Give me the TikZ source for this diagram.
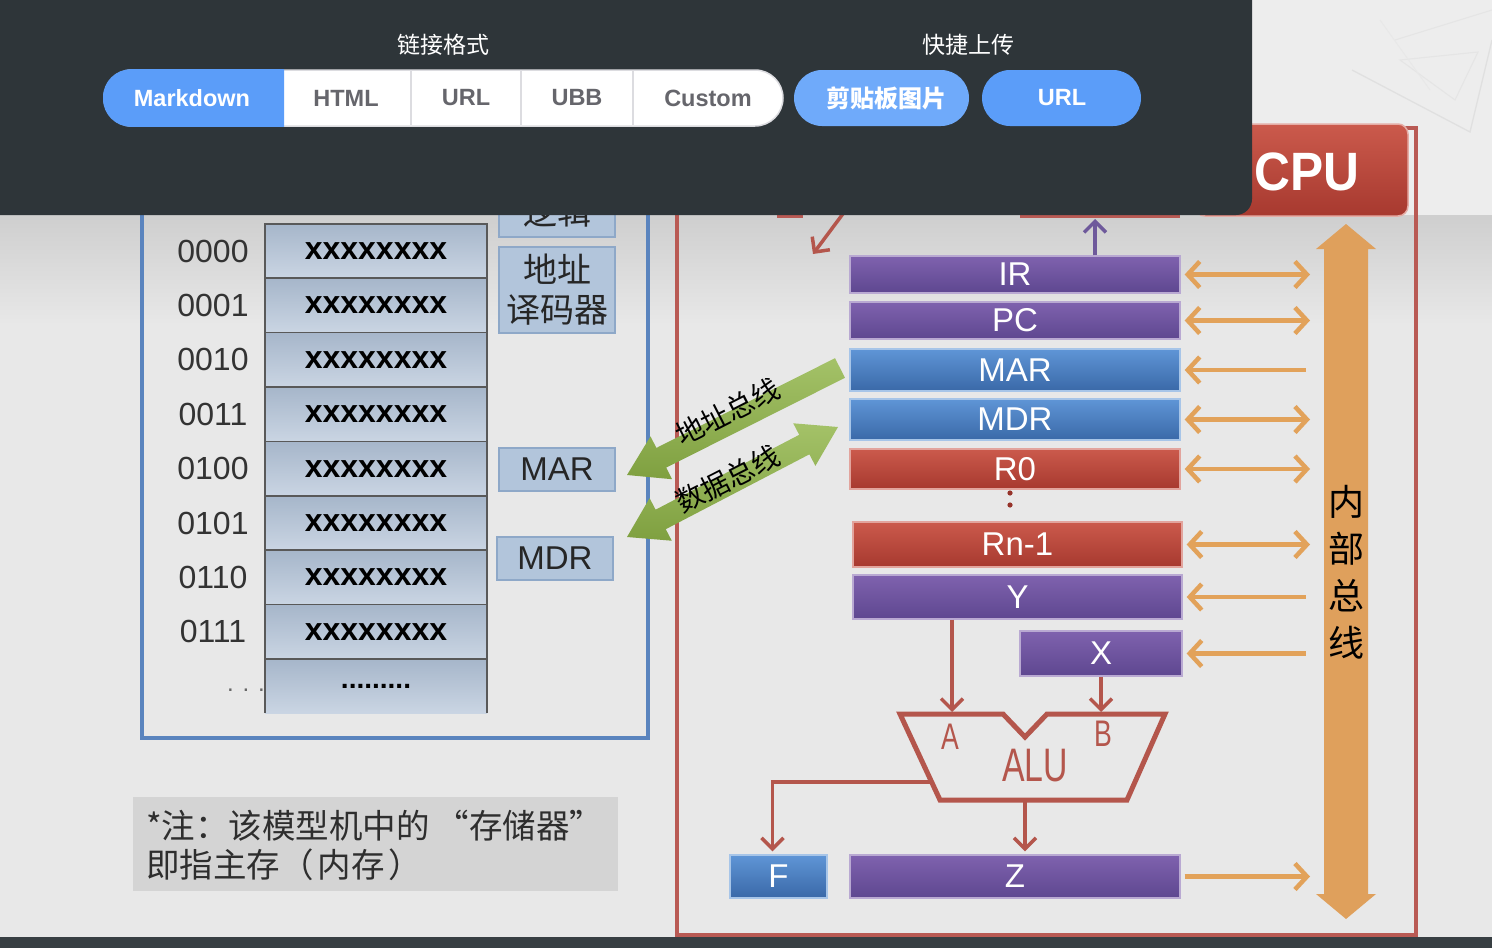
\documentclass[tikz,border=0pt]{standalone}
\usepackage{fontspec}
\setmainfont{Liberation Sans}
\newfontfamily\cjk{Noto Sans CJK SC}
\usetikzlibrary{arrows.meta,calc}
\newcommand\myfs[1]{\fontsize{#1pt}{#1pt}\selectfont}
\definecolor{panel}{HTML}{2E3539}
\definecolor{uiblue}{HTML}{5B9DF9}
\definecolor{uiblueL}{HTML}{6FAAFA}
\definecolor{uigray}{HTML}{66666C}
\definecolor{uiline}{HTML}{DCDCE0}
\definecolor{slidebg}{HTML}{E8E8E8}
\definecolor{memblue}{HTML}{5A84BE}
\definecolor{cpured}{HTML}{B95A54}
\definecolor{orangeA}{HTML}{E2A25A}
\definecolor{busor}{HTML}{DFA05C}
\definecolor{aluRed}{HTML}{B4564C}
\definecolor{gTop}{HTML}{A4C268}
\definecolor{gBot}{HTML}{7FA040}
\definecolor{pTop}{HTML}{7F62AE}
\definecolor{pBot}{HTML}{5E4790}
\definecolor{bTop}{HTML}{5F95D6}
\definecolor{bBot}{HTML}{3A69A8}
\definecolor{rTop}{HTML}{CB5A4C}
\definecolor{rBot}{HTML}{A7392F}
\definecolor{cellTop}{HTML}{A6B6CA}
\definecolor{cellBot}{HTML}{CAD5E3}
\definecolor{sideFill}{HTML}{B2C5DB}
\definecolor{sideLine}{HTML}{8EA8C8}
\begin{document}
\begin{tikzpicture}[x=1pt,y=-1pt,
  regbase/.style={line width=1.3pt, text=white, font=\myfs{33}, inner sep=0pt},
  regP/.style={regbase, draw=pTop!55!white, top color=pTop, bottom color=pBot},
  regB/.style={regbase, draw=bTop!55!white, top color=bTop, bottom color=bBot},
  regR/.style={regbase, draw=rTop!55!white, top color=rTop, bottom color=rBot},
  cell/.style={draw=black!65, line width=1.5pt, top color=cellTop, bottom color=cellBot,
    minimum width=222pt, minimum height=54.4pt, inner sep=0pt, font=\bfseries\myfs{32}},
  addr/.style={font=\myfs{32}, text=black!80, inner sep=0pt},
  sidebox/.style={draw=sideLine, line width=2pt, fill=sideFill, inner sep=0pt, text=black!85},
  oarrow/.style={draw=orangeA, line width=4.5pt, >={Straight Barb[length=12pt,width=26pt]}},
  rarrow/.style={draw=aluRed, line width=3.5pt, >={Straight Barb[length=11pt,width=22pt]}},
  parrow/.style={draw=pBot!90!white, line width=3.5pt, >={Straight Barb[length=11pt,width=22pt]}},
  segtxt/.style={font=\bfseries\myfs{23.5}, text=uigray, inner sep=0pt},
  alulbl/.style={text=aluRed, inner sep=0pt},
  notetxt/.style={font=\cjk\myfs{33.5}, text=black!82, anchor=west, inner sep=0pt},
]
\useasboundingbox (0,0) rectangle (1492,948);
% ---------- slide background ----------
\fill[slidebg] (0,0) rectangle (1492,937);
\fill[white!93!black] (1252,0) rectangle (1492,215);
\shade[top color=black!19, bottom color=slidebg] (0,215) rectangle (1492,325);
\fill[panel!95!white] (0,937) rectangle (1492,948);
% faint sketch top right
\draw[black!12, line width=1.3pt] (1352,70) -- (1470,132) -- (1492,40);
\draw[black!10, line width=1.1pt] (1395,40) -- (1492,10) (1400,60) -- (1455,100) -- (1478,52) -- cycle;
\draw[black!9, line width=1pt] (1380,20) -- (1430,90);
% ---------- memory ----------
\draw[memblue, line width=4pt] (142,150) rectangle (648,738);
\foreach \i/\a in {0/0000,1/0001,2/0010,3/0011,4/0100,5/0101,6/0110,7/0111}{
  \node[cell] (c\i) at (376,{251+54.4*\i}) {xxxxxxxx};
  \node[addr] (a\i) at (213,{251+54.4*\i}) {\a};
}
\shade[top color=cellTop, bottom color=cellBot] (265,659) rectangle (487,713);
\draw[black!65, line width=1.5pt] (265,713) -- (265,659) -- (487,659) -- (487,713);
\node[font=\bfseries\myfs{28}, inner sep=0pt] (c8) at (376,686) {.........};
\node[font=\myfs{24}, text=black!60, inner sep=0pt] (a8) at (246,690) {. . .};
\node[sidebox, minimum width=116pt, minimum height=50pt, font=\cjk\myfs{34}] (logic) at (557,212) {逻辑};
\node[sidebox, minimum width=116pt, minimum height=86pt, font={\cjk\fontsize{34pt}{40pt}\selectfont}, align=center] (dec) at (557,290) {地址\\译码器};
\node[sidebox, minimum width=116pt, minimum height=43pt, font=\myfs{33}] (mmar) at (557,469) {MAR};
\node[sidebox, minimum width=116pt, minimum height=43pt, font=\myfs{33}] (mmdr) at (555,558) {MDR};
% ---------- CPU frame ----------
\draw[cpured, line width=4pt] (677,128) rectangle (1416,935);
\fill[cpured] (777,150) rectangle (803,218);
\fill[cpured] (1020,150) rectangle (1180,218);
\node[draw=rTop!50!white, line width=1.5pt, rounded corners=10pt, top color=rTop, bottom color=rBot,
  minimum width=213pt, minimum height=92pt, inner sep=0pt] (cpubox) at (1301.5,170) {};
\node[text=white, font=\bfseries\myfs{54}, xscale=.92, inner sep=0pt] (cputxt) at (1307,172) {CPU};
% registers
\node[regP, minimum width=330pt, minimum height=37pt] (ir) at (1015,274.5) {IR};
\node[regP, minimum width=330pt, minimum height=37pt] (pc) at (1015,320.5) {PC};
\node[regB, minimum width=330pt, minimum height=42pt] (rmar) at (1015,370) {MAR};
\node[regB, minimum width=330pt, minimum height=41pt] (rmdr) at (1015,419.5) {MDR};
\node[regR, minimum width=330pt, minimum height=40pt] (r0) at (1015,469) {R0};
\node[regR, minimum width=329pt, minimum height=45pt] (rn) at (1017.5,544.5) {Rn-1};
\node[regP, minimum width=329pt, minimum height=44pt] (yreg) at (1017.5,597) {Y};
\node[regP, minimum width=162pt, minimum height=45pt] (xreg) at (1101,653.5) {X};
\node[regB, minimum width=97pt, minimum height=43pt] (freg) at (778.5,876.5) {F};
\node[regP, minimum width=330pt, minimum height=43pt] (zreg) at (1015,876.5) {Z};
\fill[rBot!90!black] (1010,493) circle (2.6pt) (1010,505) circle (2.6pt);
% internal bus
\fill[busor] (1346,224) -- (1376,249) -- (1368,249) -- (1368,894) -- (1376,894) -- (1346,919)
  -- (1316,894) -- (1324,894) -- (1324,249) -- (1316,249) -- cycle;
\node[font={\cjk\fontsize{36pt}{47pt}\selectfont}, align=center, inner sep=0pt] (bustxt) at (1346,572) {内\\部\\总\\线};
\coordinate (busL) at (1310,572);
\draw[oarrow,<->] ([xshift=4pt]ir.east) -- (ir.east -| busL);
\draw[oarrow,<->] ([xshift=4pt]pc.east) -- (pc.east -| busL);
\draw[oarrow,<-] ([xshift=4pt]rmar.east) -- ([xshift=-4pt]rmar.east -| busL);
\draw[oarrow,<->] ([xshift=4pt]rmdr.east) -- (rmdr.east -| busL);
\draw[oarrow,<->] ([xshift=4pt]r0.east) -- (r0.east -| busL);
\draw[oarrow,<->] ([xshift=4pt]rn.east) -- (rn.east -| busL);
\draw[oarrow,<-] ([xshift=4pt]yreg.east) -- ([xshift=-4pt]yreg.east -| busL);
\draw[oarrow,<-] ([xshift=4pt]xreg.east) -- ([xshift=-4pt]xreg.east -| busL);
\draw[oarrow,->] ([xshift=4pt]zreg.east) -- (zreg.east -| busL);
% control arrows (top)
\coordinate (cuOut) at (848,207);
\coordinate (cuTip) at (813,254);
\draw[rarrow,->] (cuOut) -- (cuTip);
\coordinate (ctrlIn) at (1095,219);
\draw[parrow,->] ([xshift=80pt]ir.north) -- (ctrlIn);
% ALU
\draw[aluRed, line width=5pt, line join=miter] (900,714) -- (1003,714) -- (1025,737) -- (1047,714)
  -- (1165,714) -- (1127,800) -- (940,800) -- cycle;
\node[alulbl, font=\myfs{37}, xscale=.72] (lA) at (950,737) {A};
\node[alulbl, font=\myfs{37}, xscale=.72] (lB) at (1103,734) {B};
\node[alulbl, font=\myfs{47}, xscale=.72] (lALU) at (1035,766) {ALU};
\coordinate (aIn) at (952,712);
\coordinate (bIn) at (1101,712);
\coordinate (aluOut) at (1025,800);
\coordinate (aluF) at (931,782);
\draw[rarrow,->] (aIn |- yreg.south) -- (aIn);
\draw[rarrow,->] (xreg.south) -- (bIn);
\draw[rarrow,->] (aluOut) -- ([yshift=3pt]zreg.north -| aluOut);
\draw[rarrow,->] (aluF) -| ([xshift=-6pt,yshift=3pt]freg.north);
% green buses
\coordinate (gA1) at (840,368);
\coordinate (gA2) at (627,475);
\coordinate (hA) at ($(gA1)!200pt!(gA2)$);
\shade[top color=gTop, bottom color=gBot]
  ($(gA1)!11pt!90:(gA2)$) -- ($(hA)!11pt!-90:(gA1)$) -- ($(hA)!24pt!-90:(gA1)$) -- (gA2)
  -- ($(hA)!24pt!90:(gA1)$) -- ($(hA)!11pt!90:(gA1)$) -- ($(gA1)!11pt!-90:(gA2)$) -- cycle;
\coordinate (gD1) at (627,537);
\coordinate (gD2) at (838,427);
\coordinate (hD1) at ($(gD1)!38pt!(gD2)$);
\coordinate (hD2) at ($(gD2)!38pt!(gD1)$);
\shade[top color=gTop, bottom color=gBot]
  (gD1) -- ($(hD1)!24pt!90:(gD2)$) -- ($(hD1)!11pt!90:(gD2)$) -- ($(hD2)!11pt!-90:(gD1)$)
  -- ($(hD2)!24pt!-90:(gD1)$) -- (gD2) -- ($(hD2)!24pt!90:(gD1)$) -- ($(hD2)!11pt!90:(gD1)$)
  -- ($(hD1)!11pt!-90:(gD2)$) -- ($(hD1)!24pt!-90:(gD2)$) -- cycle;
\node[font=\cjk\myfs{28}, rotate=27, inner sep=0pt] (albl) at (728,412) {地址总线};
\node[font=\cjk\myfs{28}, rotate=27, inner sep=0pt] (dlbl) at (728,479) {数据总线};
% note
\fill[black!17] (133,797) rectangle (618,891);
\node[notetxt] (n1) at (146,826) {*注：该模型机中的\hspace{6pt}“存储器”};
\node[notetxt] (n2) at (146,865) {即指主存（\hspace{4pt}内存\hspace{4pt}）};
% ---------- overlay panel ----------
\fill[panel, rounded corners=16pt] (-30,-30) rectangle (1252,215);
\node[font=\cjk\myfs{23}, text=white, inner sep=0pt] (t1) at (443,45) {链接格式};
\node[font=\cjk\myfs{23}, text=white, inner sep=0pt] (t2) at (968,45) {快捷上传};
\fill[white] [rounded corners=28pt] (104,70) rectangle (783,126);
\draw[uiline, line width=1.5pt, rounded corners=28pt] (104,70) rectangle (783,126);
\begin{scope}
  \clip (100,60) rectangle (284,136);
  \fill[uiblue, rounded corners=28pt] (103,69.2) rectangle (330,126.8);
\end{scope}
\draw[uiline, line width=1.5pt] (411,71) -- (411,125) (521,71) -- (521,125) (633,71) -- (633,125);
\node[segtxt, text=white] (s1) at (192,98) {Markdown};
\node[segtxt] (s2) at (346,98) {HTML};
\node[segtxt] (s3) at (466,98) {URL};
\node[segtxt] (s4) at (577,98) {UBB};
\node[segtxt] (s5) at (708,98) {Custom};
\fill[uiblueL, rounded corners=28pt] (794,70) rectangle (969,126);
\fill[uiblue, rounded corners=28pt] (982,70) rectangle (1141,126);
\node[font=\cjk\bfseries\myfs{24}, text=white, inner sep=0pt] (b1) at (886,98) {剪贴板图片};
\node[font=\bfseries\myfs{23.5}, text=white, inner sep=0pt] (b2) at (1062,98) {URL};
\end{tikzpicture}
\end{document}
